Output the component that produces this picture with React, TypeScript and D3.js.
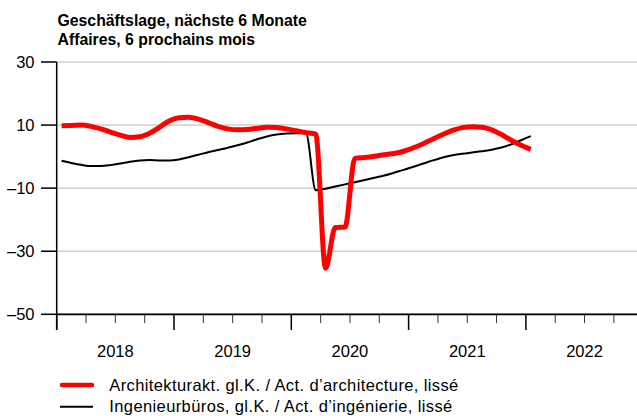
import React, { useEffect } from "react";
import * as d3 from "d3";

const titleLines = ["Geschäftslage, nächste 6 Monate", "Affaires, 6 prochains mois"];
const startYear = 2018;
const yearLabels = ["2018", "2019", "2020", "2021", "2022"];
const yTicks = [30, 10, -10, -30, -50];
const legendLabels = [
  "Architekturakt. gl.K. / Act. d’architecture, lissé",
  "Ingenieurbüros, gl.K. / Act. d’ingénierie, lissé",
];

// monthly values Jan 2018 – Jan 2022
const architecture = [
  9.8, 9.9, 10.0, 9.6, 8.8, 7.8, 6.8, 6.1, 6.3, 7.4, 9.3, 11.3,
  12.3, 12.5, 11.9, 10.8, 9.6, 8.8, 8.5, 8.6, 9.0, 9.3, 9.2, 8.8,
  8.2, 7.6, 7.1, -35.4, -22.5, -22.3, -0.6, -0.3, 0.1, 0.6, 1.0, 1.7,
  2.8, 4.1, 5.6, 7.0, 8.3, 9.2, 9.5, 9.3, 8.5, 7.0, 5.2, 3.6,
  2.3,
];
const engineering = [
  -1.3, -2.0, -2.6, -3.0, -3.0, -2.7, -2.2, -1.6, -1.2, -1.1, -1.2, -1.2,
  -0.9, -0.2, 0.6, 1.4, 2.1, 2.8, 3.6, 4.5, 5.5, 6.4, 7.0, 7.3,
  7.4, 7.4, -10.7, -10.2, -9.5, -8.8, -8.1, -7.4, -6.7, -6.0, -5.1, -4.2,
  -3.2, -2.2, -1.2, -0.3, 0.4, 0.9, 1.3, 1.7, 2.2, 2.9, 3.9, 5.2,
  6.5,
];

const W = 637;
const H = 416;
const x0 = 56.7;
const yearW = 117.3;
const x = d3.scaleLinear().domain([startYear, startYear + 5]).range([x0, x0 + 5 * yearW]);
const y = d3.scaleLinear().domain([-50, 30]).range([314.3, 62]);

const FONT = "'Liberation Sans', Arial, sans-serif";
const FS = 16.5;
const legendWidths = [349, 343];

function pathFor(vals: number[]) {
  const line = d3
    .line<number>()
    .x((_, i) => x(startYear + (i + 0.5) / 12))
    .y((v) => y(v))
    .curve(d3.curveMonotoneX);
  return line(vals) || "";
}

export default function App() {
  useEffect(() => {
    document.body.style.margin = "0";
  }, []);
  const quarters = d3.range(0, 5 * 4 + 1).map((q) => startYear + q / 4);
  return (
    <svg width={W} height={H} style={{ display: "block", background: "#fff" }} fontFamily={FONT}>
      {titleLines.map((t, i) => (
        <text key={i} x={57.5} y={26 + i * 18.5} fontSize={15.8} fontWeight="bold" fill="#000">
          {t}
        </text>
      ))}
      {/* grid */}
      {yTicks.map((v) => (
        <line key={"g" + v} x1={x0} x2={W} y1={y(v)} y2={y(v)} stroke="#cfcfcf" strokeWidth={1.5} />
      ))}
      {/* y ticks and labels */}
      {yTicks.map((v) => (
        <g key={"t" + v}>
          <line x1={41} x2={x0} y1={y(v)} y2={y(v)} stroke="#000" strokeWidth={1.5} />
          <text x={34.5} y={y(v) + 6} fontSize={FS} textAnchor="end" fill="#000">
            {v < 0 ? "–" + Math.abs(v) : String(v)}
          </text>
        </g>
      ))}
      {/* x ticks */}
      {quarters.map((q, i) => {
        const major = i % 4 === 0;
        return (
          <line
            key={"q" + i}
            x1={x(q)}
            x2={x(q)}
            y1={y(-50)}
            y2={major ? 330 : 323}
            stroke={major ? "#000" : "#333"}
            strokeWidth={major ? 1.5 : 1}
          />
        );
      })}
      {yearLabels.map((l, i) => (
        <text key={l} x={x(startYear + i + 0.5)} y={357} fontSize={FS} textAnchor="middle" fill="#000">
          {l}
        </text>
      ))}
      {/* axes */}
      <line x1={x0} x2={x0} y1={y(30)} y2={330} stroke="#000" strokeWidth={1.5} />
      <line x1={x0} x2={W} y1={y(-50)} y2={y(-50)} stroke="#000" strokeWidth={1.8} />
      {/* series */}
      <path d={pathFor(engineering)} fill="none" stroke="#000" strokeWidth={2} strokeLinejoin="round" />
      <path d={pathFor(architecture)} fill="none" stroke="#ff0000" strokeWidth={5} strokeLinejoin="round" />
      {/* legend */}
      <line x1={62} x2={92} y1={385} y2={385} stroke="#ff0000" strokeWidth={4.5} strokeLinecap="round" />
      <line x1={60} x2={93} y1={406.7} y2={406.7} stroke="#000" strokeWidth={2} />
      {legendLabels.map((l, i) => (
        <text
          key={l}
          x={109.3}
          y={391 + i * 21.3}
          fontSize={FS}
          fill="#000"
          textLength={legendWidths[i]}
          lengthAdjust="spacing"
        >
          {l}
        </text>
      ))}
    </svg>
  );
}
